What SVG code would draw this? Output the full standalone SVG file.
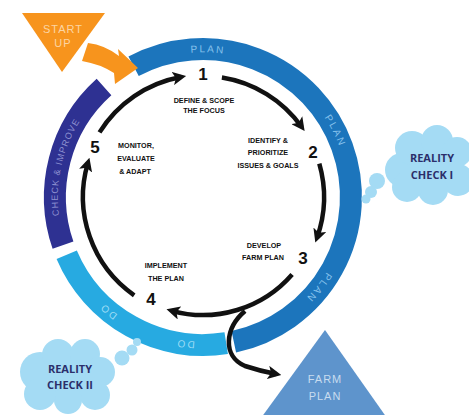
<svg xmlns="http://www.w3.org/2000/svg" xmlns:xlink="http://www.w3.org/1999/xlink" width="469" height="415" viewBox="0 0 469 415">
<style>
.band{fill:none;stroke-width:22}
.ring-t{font-family:"Liberation Sans",Arial,sans-serif;font-size:10px;letter-spacing:2px}
.blk{fill:none;stroke:#111;stroke-width:4.5;stroke-linecap:butt;marker-end:url(#ah)}
.step{font-family:"Liberation Sans",Arial,sans-serif;font-weight:bold;font-size:7.2px;fill:#111;text-anchor:middle}
.num{font-family:"Liberation Sans",Arial,sans-serif;font-weight:bold;font-size:17px;fill:#111;text-anchor:middle}
.cloud{fill:#a4dbf4}
.ctext{font-family:"Open Sans","Liberation Sans",sans-serif;font-weight:bold;font-size:11px;fill:#2b2f6b;text-anchor:middle}
.tri-t{font-family:"Liberation Sans",Arial,sans-serif;font-size:11px;letter-spacing:1px;text-anchor:middle}
</style>
<defs>
<marker id="ah" markerWidth="3" markerHeight="3" refX="1.8" refY="1.5" orient="auto" markerUnits="strokeWidth">
<path d="M0,0 L3,1.5 L0,3 L0.7,1.5 Z" fill="#111"/>
</marker>
<path id="ringpath" d="M 131 72.3 A 144 144 0 1 1 275 321.7 A 144 144 0 1 1 131 72.3"/>
</defs>

<g id="ring">
<path class="band" stroke="#1c75bc" d="M 133.6 66.3 A 148 148 0 1 1 233.8 341.8"/>
<path class="band" stroke="#27aae1" d="M 226.2 343.2 A 148 148 0 0 1 66.7 254.8"/>
<path class="band" stroke="#2e3192" d="M 63.0 245.2 A 148 148 0 0 1 104.0 87.0"/>
<text class="ring-t" fill="#86c2ec"><textPath xlink:href="#ringpath" href="#ringpath" startOffset="80.4" text-anchor="middle">PLAN</textPath></text>
<text class="ring-t" fill="#86c2ec"><textPath xlink:href="#ringpath" href="#ringpath" startOffset="236.2" text-anchor="middle">PLAN</textPath></text>
<text class="ring-t" fill="#86c2ec"><textPath xlink:href="#ringpath" href="#ringpath" startOffset="399.6" text-anchor="middle">PLAN</textPath></text>
<text class="ring-t" fill="#9ddcf5"><textPath xlink:href="#ringpath" href="#ringpath" startOffset="547.9" text-anchor="middle">DO</textPath></text>
<text class="ring-t" fill="#9ddcf5"><textPath xlink:href="#ringpath" href="#ringpath" startOffset="630.8" text-anchor="middle">DO</textPath></text>
<text class="ring-t" fill="#8d90d0" style="font-size:9px;letter-spacing:1px"><textPath xlink:href="#ringpath" href="#ringpath" startOffset="789.2" text-anchor="middle">CHECK &amp; IMPROVE</textPath></text>
</g>

<g id="start-up">
<polygon points="22,13 105,13 62,72" fill="#f7941d"/>
<text class="tri-t" x="63" y="33" fill="#fcd4a2">START</text>
<text class="tri-t" x="63" y="47" fill="#fcd4a2">UP</text>
<path d="M 88 43 Q 105 45 119 56 L 118 49 L 138 68 L 115 84 L 114 73 Q 100 64 82 61 Z" fill="#f7941d"/>
</g>

<g id="connectors">
<path class="blk" d="M 221.9 77.5 A 121 121 0 0 1 301.5 126.7"/>
<path class="blk" d="M 319.3 163.6 A 121 121 0 0 1 317.1 237.4"/>
<path class="blk" d="M 292.1 274.4 A 118 118 0 0 1 171.7 310.8"/>
<path class="blk" d="M 134.2 295.3 A 120 120 0 0 1 87.9 162.9"/>
<path class="blk" d="M 99.5 132.4 A 122 122 0 0 1 180.8 77.0"/>
<path class="blk" d="M 245 311 C 225 328, 222 356, 245 366 Q 260 371 276 374"/>
</g>

<g id="step1">
<text class="num" x="203" y="80">1</text>
<text class="step" x="204" y="103">DEFINE &amp; SCOPE</text>
<text class="step" x="204" y="113">THE FOCUS</text>
</g>
<g id="step2">
<text class="num" x="313" y="158">2</text>
<text class="step" x="268" y="143">IDENTIFY &amp;</text>
<text class="step" x="268" y="155">PRIORITIZE</text>
<text class="step" x="268" y="168">ISSUES &amp; GOALS</text>
</g>
<g id="step3">
<text class="num" x="303" y="264">3</text>
<text class="step" x="264" y="248">DEVELOP</text>
<text class="step" x="263" y="260">FARM PLAN</text>
</g>
<g id="step4">
<text class="num" x="151" y="305">4</text>
<text class="step" x="166" y="268">IMPLEMENT</text>
<text class="step" x="166" y="281">THE PLAN</text>
</g>
<g id="step5">
<text class="num" x="95" y="153">5</text>
<text class="step" x="136" y="148">MONITOR,</text>
<text class="step" x="136" y="161">EVALUATE</text>
<text class="step" x="135" y="174">&amp; ADAPT</text>
</g>

<g id="reality-check-1">
<g class="cloud">
<circle cx="430" cy="166" r="26"/>
<circle cx="402" cy="170" r="17"/>
<circle cx="412" cy="148" r="17"/>
<circle cx="437" cy="141" r="16"/>
<circle cx="457" cy="152" r="15"/>
<circle cx="458" cy="180" r="16"/>
<circle cx="433" cy="190" r="15"/>
<circle cx="407" cy="187" r="15"/>
<circle cx="377" cy="181" r="8"/>
<circle cx="371" cy="192" r="6"/>
<circle cx="366" cy="199" r="4.5"/>
</g>
<text class="ctext" x="432" y="162">REALITY</text>
<text class="ctext" x="432" y="179">CHECK I</text>
</g>

<g id="reality-check-2">
<g class="cloud">
<circle cx="68" cy="377" r="28"/>
<circle cx="40" cy="372" r="20"/>
<circle cx="58" cy="355" r="16"/>
<circle cx="85" cy="354" r="15"/>
<circle cx="100" cy="372" r="15"/>
<circle cx="95" cy="395" r="15"/>
<circle cx="68" cy="400" r="14"/>
<circle cx="40" cy="394" r="16"/>
<circle cx="122" cy="358" r="7.5"/>
<circle cx="132" cy="350" r="5.5"/>
<circle cx="137" cy="342" r="4"/>
</g>
<text class="ctext" x="70" y="373">REALITY</text>
<text class="ctext" x="70" y="389">CHECK II</text>
</g>

<g id="farm-plan">
<polygon points="325,330 387,418 261,418" fill="#5e94cc"/>
<text class="tri-t" x="325" y="383" fill="#c8dcef">FARM</text>
<text class="tri-t" x="325" y="400" fill="#c8dcef">PLAN</text>
</g>
</svg>
